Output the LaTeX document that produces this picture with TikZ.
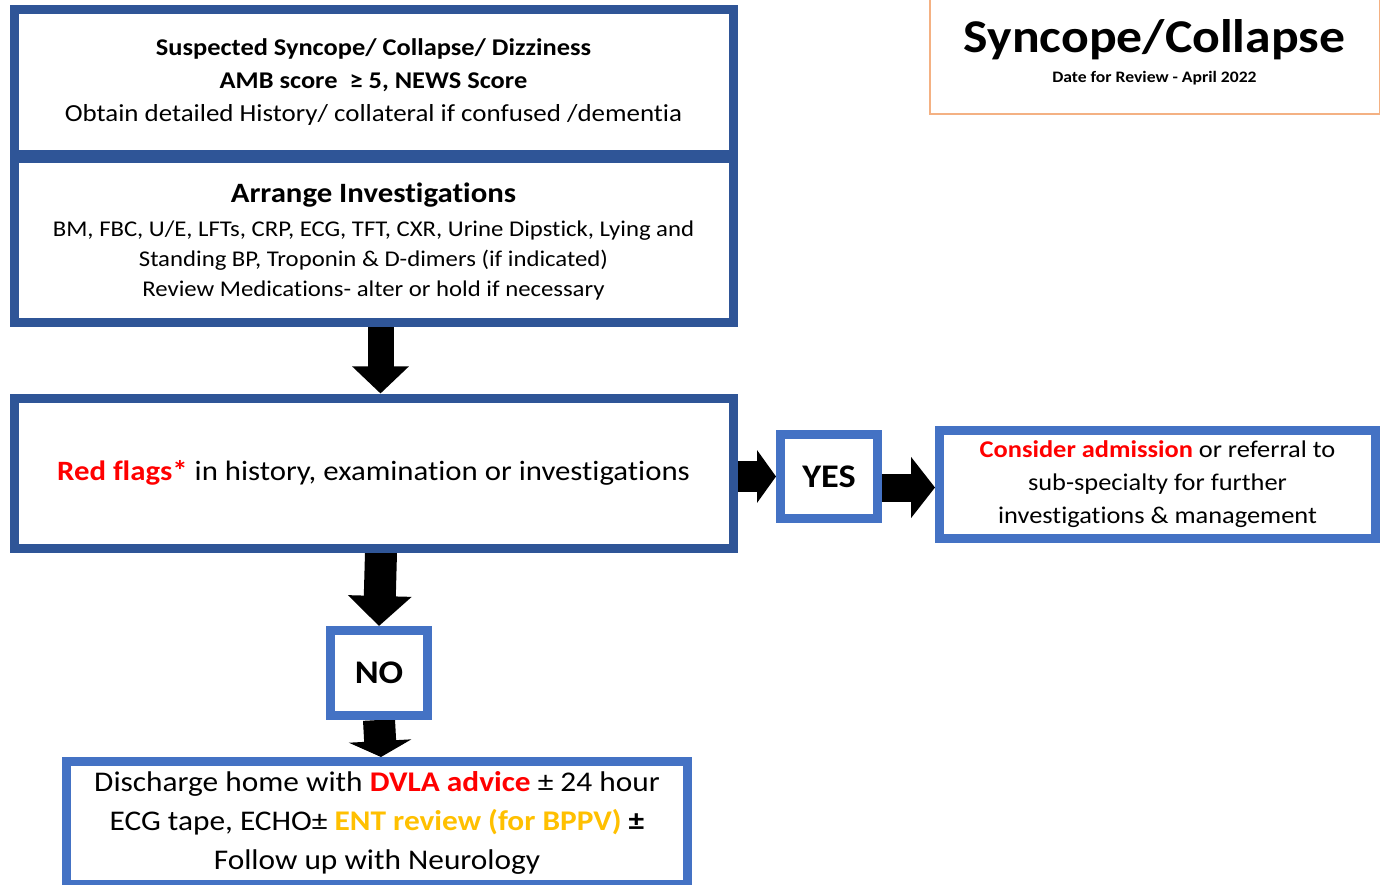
\documentclass[tikz,border=0pt]{standalone}
\usepackage{fontspec}
\setmainfont{Carlito}[FakeStretch=1.1, Ligatures=NoCommon]
\usetikzlibrary{arrows.meta,backgrounds,calc}
\definecolor{darkblue}{HTML}{2F5597}
\definecolor{lightblue}{HTML}{4472C4}
\definecolor{redtxt}{HTML}{FF0000}
\definecolor{goldtxt}{HTML}{FFC000}
\definecolor{orangeline}{HTML}{F4B183}
\newcommand{\fsz}[2]{\fontsize{#1}{#2}\selectfont}
\tikzset{
  darkbox/.style={draw=darkblue, line width=9pt, fill=white, align=center, inner sep=0pt},
  lightbox/.style={draw=lightblue, line width=9pt, fill=white, align=center, inner sep=0pt},
  blockarrow/.style={draw=black, line width=#1},
}
\begin{document}
\begin{tikzpicture}[x=1pt,y=-1pt]
\useasboundingbox (0,0) rectangle (1382,885);
\clip (0,0) rectangle (1382,885);
% title
\node[draw=orangeline, line width=1.5pt, fill=white, minimum width=449.5pt, minimum height=124pt, align=center, inner sep=0pt] (title) at (1154.5,52) {\raisebox{14pt}{\fsz{47}{42}\bfseries Syncope/Collapse}\\[4pt]{\fsz{16}{18}\bfseries Date for Review - April 2022}};
% top boxes
\node[darkbox, minimum width=719pt, minimum height=145pt, font=\fsz{22}{33}] (sus) at (373.5,82.5)
 {{\fsz{24}{33}\bfseries Suspected Syncope/ Collapse/ Dizziness}\\
  {\fsz{24}{33}\bfseries AMB score \ ≥ 5, NEWS Score}\\
  {\fsz{24.5}{33}Obtain detailed History/ collateral if confused /dementia}};
\node[darkbox, minimum width=719pt, minimum height=164pt, font=\fsz{22.5}{30}] (inv) at (373.5,241)
 {{\fsz{28}{30}\bfseries Arrange Investigations}\\[4pt]
  BM, FBC, U/E, LFTs, CRP, ECG, TFT, CXR, Urine Dipstick, Lying and\\
  Standing BP, Troponin \& D-dimers (if indicated)\\
  Review Medications- alter or hold if necessary};
\node[darkbox, minimum width=719pt, minimum height=150pt, font=\fsz{28}{30}] (red) at (373.5,473)
 {{\color{redtxt}\bfseries Red flags*} in history, examination or investigations};
\node[lightbox, minimum width=97pt, minimum height=84pt, font=\fsz{33}{30}\bfseries] (yes) at (829,476.5) {YES};
\node[lightbox, minimum width=436pt, minimum height=108pt, font=\fsz{24}{33}] (cons) at (1157.5,484)
 {{\color{redtxt}\bfseries Consider admission} or referral to\\
  sub-specialty for further\\
  investigations \& management};
\node[lightbox, minimum width=97pt, minimum height=85pt, font=\fsz{33}{30}\bfseries] (no) at (379,673) {NO};
\node[lightbox, minimum width=621pt, minimum height=123pt, font=\fsz{28.5}{39}] (dis) at (377,823)
 {Discharge home with {\color{redtxt}\bfseries DVLA advice} ± 24 hour\\
  ECG tape, ECHO± {\color{goldtxt}\bfseries ENT review (for BPPV)} {\bfseries ±}\\
  Follow up with Neurology};
% arrows
\begin{scope}[on background layer]
\draw[blockarrow=26pt, -{Triangle[width=55pt,length=27pt]}] ([xshift=7pt]inv.south) -- ([xshift=7pt]red.north);
\draw[blockarrow=31pt, -{Triangle[width=52pt,length=19pt]}] (red.east |- yes.west) -- (yes.west);
\draw[blockarrow=28pt, -{Triangle[width=60pt,length=24pt]}] ([yshift=-11pt]yes.east) -- ([yshift=-11pt]yes.east -| cons.west);
\draw[blockarrow=32pt, -{Triangle[width=62pt,length=30pt]}] ([xshift=7.5pt]red.south) -- (no.north);
\draw[blockarrow=32pt, -{Triangle[width=62pt,length=16pt]}] (no.south) -- ([xshift=4pt]dis.north);
\end{scope}
\end{tikzpicture}
\end{document}
